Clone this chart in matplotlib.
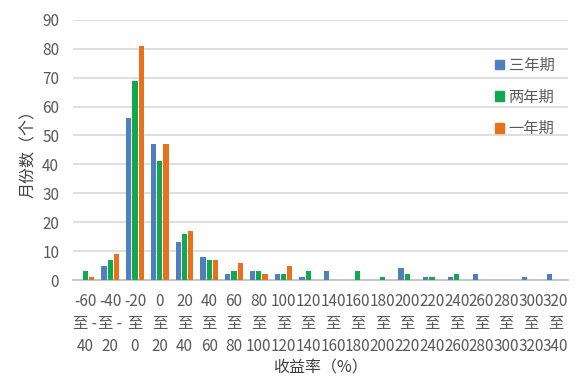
import matplotlib
matplotlib.use("Agg")
import matplotlib.pyplot as plt
import numpy as np
from matplotlib.patches import Patch

plt.rcParams["font.family"] = ["Noto Sans CJK SC", "DejaVu Sans"]

# bins of monthly return (%)
categories = [
    "-60\n至 -\n40", "-40\n至 -\n20", "-20\n至\n0", "0\n至\n20", "20\n至\n40",
    "40\n至\n60", "60\n至\n80", "80\n至\n100", "100\n至\n120", "120\n至\n140",
    "140\n至\n160", "160\n至\n180", "180\n至\n200", "200\n至\n220", "220\n至\n240",
    "240\n至\n260", "260\n至\n280", "280\n至\n300", "300\n至\n320", "320\n至\n340",
]
three_year = [0, 5, 56, 47, 13, 8, 2, 3, 2, 1, 3, 0, 0, 4, 1, 1, 2, 0, 1, 2]
two_year = [3, 7, 69, 41, 16, 7, 3, 3, 2, 3, 0, 3, 1, 2, 1, 2, 0, 0, 0, 0]
one_year = [1, 9, 81, 47, 17, 7, 6, 2, 5, 0, 0, 0, 0, 0, 0, 0, 0, 0, 0, 0]
series_names = ["三年期", "两年期", "一年期"]
colors = ["#4F7FBC", "#12A84E", "#E8721C"]

fig = plt.figure(figsize=(5.85, 3.82), dpi=100)
ax = fig.add_axes([0.125, 0.267, 0.846, 0.681])

x = np.arange(len(categories))
width = 0.21
for offset, values, color in zip([-0.25, 0, 0.25], [three_year, two_year, one_year], colors):
    ax.bar(x + offset, values, width=width, color=color, zorder=3)

ax.set_xlim(-0.5, len(categories) - 0.5)
ax.set_ylim(0, 90)
ax.set_yticks(np.arange(0, 91, 10))
ax.yaxis.grid(True, color="#D9D9D9", linewidth=1.2, zorder=0)
for side in ["top", "right", "left"]:
    ax.spines[side].set_visible(False)
ax.spines["bottom"].set_color("#BFBFBF")
ax.spines["bottom"].set_linewidth(1.2)
ax.tick_params(axis="both", length=0, colors="#595959", labelsize=11)
ax.tick_params(axis="y", pad=10)
ax.set_xticks(x)
ax.set_xticklabels(categories, linespacing=1.45)
ax.tick_params(axis="x", pad=9)

ax.set_ylabel("月份数（个）", fontsize=11.5, color="#404040", labelpad=4)
ax.set_xlabel("收益率（%）", fontsize=11.5, color="#404040", labelpad=3)

handles = [Patch(color=c) for c in colors]
ax.legend(handles, series_names, loc="upper right", bbox_to_anchor=(1.0, 0.91),
          frameon=False, fontsize=11, labelcolor="#595959", handlelength=0.6,
          handleheight=0.6, handletextpad=0.3, labelspacing=0.95)

fig.savefig("out.png", dpi=100)
